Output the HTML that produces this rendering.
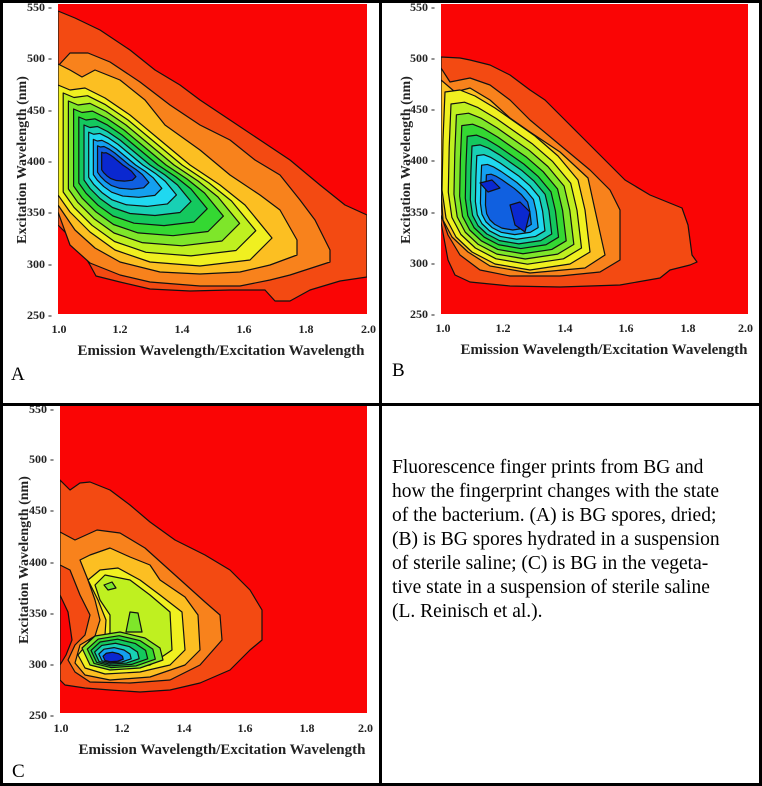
<!DOCTYPE html>
<html><head><meta charset="utf-8"><style>
html,body{margin:0;padding:0;background:#fff}
svg{display:block}
.t{font-family:"Liberation Serif",serif;font-weight:bold;font-size:12px;fill:#222}
.xl{font-family:"Liberation Serif",serif;font-weight:bold;font-size:15px;fill:#222}
.yl{font-family:"Liberation Serif",serif;font-weight:bold;font-size:14px;fill:#222}
.L{font-family:"Liberation Serif",serif;font-size:19px;fill:#000}
.cap{font-family:"Liberation Serif",serif;font-size:19.5px;fill:#000}
polygon{stroke:#111;stroke-width:1.2;stroke-linejoin:round}
</style></head><body>
<svg width="762" height="786" viewBox="0 0 762 786" xmlns="http://www.w3.org/2000/svg" xmlns:xlink="http://www.w3.org/1999/xlink">
<defs>
<clipPath id="cA"><rect x="58" y="4" width="309" height="310"/></clipPath>
<clipPath id="cB"><rect x="441" y="4" width="307" height="310"/></clipPath>
<clipPath id="cC"><rect x="60" y="406" width="307" height="307"/></clipPath>
<polygon id="a4" vector-effect="non-scaling-stroke" points="58,85 70,90 85,88 105,98 130,115 160,140 190,165 220,185 245,205 272,238 250,260 200,266 150,262 115,250 90,232 70,212 58,195"/>
<polygon id="b3" vector-effect="non-scaling-stroke" points="445,92 460,90 475,96 495,108 515,122 535,136 558,156 578,180 585,210 590,252 570,264 530,270 495,264 472,252 456,237 446,218 442,190 443,140"/>
<polygon id="c6" vector-effect="non-scaling-stroke" points="82,648 95,636 120,632 145,638 160,648 163,660 140,668 110,670 90,665"/>
</defs>
<rect width="762" height="786" fill="#fff"/>

<!-- Panel A -->
<g clip-path="url(#cA)">
<rect x="58" y="4" width="309" height="310" fill="#fa0505"/>
<polygon fill="#f34a12" points="58,11 75,18 100,30 130,50 155,70 180,85 200,100 230,120 260,140 290,160 320,185 345,205 367,215 367,277 340,281 310,290 290,301 275,301 265,290 230,290 190,291 150,289 120,282 96,276 90,265 78,245 58,225"/>
<polygon fill="#f8821c" points="58,66 70,53 88,53 110,62 140,82 170,105 200,125 230,140 255,160 280,175 300,200 315,220 330,250 330,262 290,275 270,280 240,286 200,286 150,282 120,275 90,263 70,245 58,212"/>
<polygon fill="#fcbf22" points="58,64 70,70 82,77 95,70 120,80 145,100 165,125 200,150 230,175 260,195 280,210 297,240 297,255 270,265 240,272 200,274 160,272 120,262 95,248 75,230 58,205"/>
<use xlink:href="#a4" fill="#f0f020"/>
<use xlink:href="#a4" fill="#bff020" transform="translate(110,165) scale(0.9) translate(-110,-165)"/>
<use xlink:href="#a4" fill="#7ee62a" transform="translate(110,165) scale(0.8) translate(-110,-165)"/>
<use xlink:href="#a4" fill="#34d832" transform="translate(110,165) scale(0.7) translate(-110,-165)"/>
<use xlink:href="#a4" fill="#14c85e" transform="translate(110,165) scale(0.6) translate(-110,-165)"/>
<use xlink:href="#a4" fill="#18d0b4" transform="translate(110,165) scale(0.5) translate(-110,-165)"/>
<use xlink:href="#a4" fill="#20d8f0" transform="translate(110,165) scale(0.41) translate(-110,-165)"/>
<use xlink:href="#a4" fill="#14a0f0" transform="translate(110,165) scale(0.32) translate(-110,-165)"/>
<use xlink:href="#a4" fill="#1060e0" transform="translate(110,165) scale(0.24) translate(-110,-165)"/>
<use xlink:href="#a4" fill="#0a28d0" transform="translate(110,165) scale(0.16) translate(-110,-165)"/>
</g>
<g>
<text class="t" x="52" y="11" text-anchor="end">550 -</text>
<text class="t" x="52" y="62" text-anchor="end">500 -</text>
<text class="t" x="52" y="114" text-anchor="end">450 -</text>
<text class="t" x="52" y="165" text-anchor="end">400 -</text>
<text class="t" x="52" y="216" text-anchor="end">350 -</text>
<text class="t" x="52" y="268" text-anchor="end">300 -</text>
<text class="t" x="52" y="319" text-anchor="end">250 -</text>
<text class="t" x="59" y="333" text-anchor="middle">1.0</text>
<text class="t" x="120" y="333" text-anchor="middle">1.2</text>
<text class="t" x="182" y="333" text-anchor="middle">1.4</text>
<text class="t" x="244" y="333" text-anchor="middle">1.6</text>
<text class="t" x="306" y="333" text-anchor="middle">1.8</text>
<text class="t" x="361" y="333">2.0</text>
<text class="xl" x="221" y="355" text-anchor="middle">Emission Wavelength/Excitation Wavelength</text>
<text class="yl" transform="translate(26,160) rotate(-90)" text-anchor="middle">Excitation Wavelength (nm)</text>
<text class="L" x="11" y="380">A</text>
</g>

<!-- Panel B -->
<g clip-path="url(#cB)">
<rect x="441" y="4" width="307" height="310" fill="#fa0505"/>
<polygon fill="#f34a12" points="441,57 460,58 470,60 490,65 510,75 530,90 545,100 565,120 585,140 605,160 625,180 650,195 682,208 688,225 692,255 697,262 690,265 670,270 660,278 620,285 560,287 510,286 470,282 455,275 448,260 441,222"/>
<polygon fill="#f8821c" points="441,68 450,82 470,78 490,85 510,100 530,120 560,145 590,170 610,190 620,210 620,260 600,272 560,276 510,276 480,270 460,255 448,235 441,215"/>
<polygon fill="#fcbf22" points="441,80 455,92 470,88 490,100 510,118 530,132 560,152 588,178 595,210 605,255 585,268 530,273 490,266 468,252 452,237 443,220 441,190"/>
<use xlink:href="#b3" fill="#f0f020"/>
<use xlink:href="#b3" fill="#bff020" transform="translate(505,212) scale(0.9) translate(-505,-212)"/>
<use xlink:href="#b3" fill="#7ee62a" transform="translate(505,212) scale(0.81) translate(-505,-212)"/>
<use xlink:href="#b3" fill="#34d832" transform="translate(505,212) scale(0.72) translate(-505,-212)"/>
<use xlink:href="#b3" fill="#14c85e" transform="translate(505,212) scale(0.63) translate(-505,-212)"/>
<use xlink:href="#b3" fill="#18d0b4" transform="translate(505,212) scale(0.55) translate(-505,-212)"/>
<use xlink:href="#b3" fill="#20d8f0" transform="translate(505,212) scale(0.47) translate(-505,-212)"/>
<use xlink:href="#b3" fill="#14a0f0" transform="translate(505,212) scale(0.39) translate(-505,-212)"/>
<use xlink:href="#b3" fill="#1060e0" transform="translate(505,212) scale(0.31) translate(-505,-212)"/>
<polygon fill="#0a28d0" points="510,205 520,202 530,212 525,232 515,225"/>
<polygon fill="#0a28d0" points="480,183 492,180 500,188 488,192"/>
</g>
<g>
<text class="t" x="435" y="11" text-anchor="end">550 -</text>
<text class="t" x="435" y="62" text-anchor="end">500 -</text>
<text class="t" x="435" y="113" text-anchor="end">450 -</text>
<text class="t" x="435" y="164" text-anchor="end">400 -</text>
<text class="t" x="435" y="216" text-anchor="end">350 -</text>
<text class="t" x="435" y="267" text-anchor="end">300 -</text>
<text class="t" x="435" y="318" text-anchor="end">250 -</text>
<text class="t" x="443" y="332" text-anchor="middle">1.0</text>
<text class="t" x="503" y="332" text-anchor="middle">1.2</text>
<text class="t" x="565" y="332" text-anchor="middle">1.4</text>
<text class="t" x="626" y="332" text-anchor="middle">1.6</text>
<text class="t" x="688" y="332" text-anchor="middle">1.8</text>
<text class="t" x="738" y="332">2.0</text>
<text class="xl" x="604" y="354" text-anchor="middle">Emission Wavelength/Excitation Wavelength</text>
<text class="yl" transform="translate(410,160) rotate(-90)" text-anchor="middle">Excitation Wavelength (nm)</text>
<text class="L" x="392" y="376">B</text>
</g>

<!-- Panel C -->
<g clip-path="url(#cC)">
<rect x="60" y="406" width="307" height="307" fill="#fa0505"/>
<polygon fill="#f34a12" points="60,480 70,490 80,483 90,482 110,490 130,505 150,522 175,540 205,555 230,570 250,590 262,610 262,640 250,650 230,670 200,683 170,690 140,692 110,690 85,688 65,685 60,680"/>
<polygon fill="#fa0505" points="60,595 68,612 72,640 66,655 60,665"/>
<polygon fill="#f8821c" points="60,532 75,540 97,530 120,533 145,548 175,575 205,602 220,615 222,640 200,665 170,680 130,683 90,682 75,672 68,660 75,645 85,635 90,615 80,595 70,570 60,565"/>
<polygon fill="#fcbf22" points="80,560 90,555 110,548 130,557 150,565 160,580 185,597 198,615 200,650 185,665 150,677 110,680 85,675 75,663 80,645 95,636 100,620 95,600 88,580"/>
<polygon fill="#f0f020" points="88,580 100,570 118,568 140,580 160,595 182,612 185,650 170,665 140,672 105,674 85,668 78,655 90,640 105,635 106,620 98,600"/>
<polygon fill="#bff020" points="95,585 105,575 130,580 150,595 170,612 172,650 150,665 110,668 88,660 85,650 100,640 110,633 110,615 100,600"/>
<polygon fill="#7ee62a" points="126,632 130,612 138,613 142,632"/>
<polygon fill="#7ee62a" points="104,585 112,582 116,588 108,590"/>
<use xlink:href="#c6" fill="#7ee62a"/>
<use xlink:href="#c6" fill="#34d832" transform="translate(115,655) scale(0.84) translate(-115,-655)"/>
<use xlink:href="#c6" fill="#14c85e" transform="translate(112,656) scale(0.7) translate(-112,-656)"/>
<use xlink:href="#c6" fill="#18d0b4" transform="translate(110,657) scale(0.55) translate(-110,-657)"/>
<use xlink:href="#c6" fill="#14a0f0" transform="translate(110,658) scale(0.4) translate(-110,-658)"/>
<use xlink:href="#c6" fill="#0a28d0" transform="translate(110,659) scale(0.25) translate(-110,-659)"/>
</g>
<g>
<text class="t" x="54" y="413" text-anchor="end">550 -</text>
<text class="t" x="54" y="463" text-anchor="end">500 -</text>
<text class="t" x="54" y="514" text-anchor="end">450 -</text>
<text class="t" x="54" y="566" text-anchor="end">400 -</text>
<text class="t" x="54" y="617" text-anchor="end">350 -</text>
<text class="t" x="54" y="668" text-anchor="end">300 -</text>
<text class="t" x="54" y="719" text-anchor="end">250 -</text>
<text class="t" x="61" y="732" text-anchor="middle">1.0</text>
<text class="t" x="122" y="732" text-anchor="middle">1.2</text>
<text class="t" x="184" y="732" text-anchor="middle">1.4</text>
<text class="t" x="245" y="732" text-anchor="middle">1.6</text>
<text class="t" x="307" y="732" text-anchor="middle">1.8</text>
<text class="t" x="358" y="732">2.0</text>
<text class="xl" x="222" y="754" text-anchor="middle">Emission Wavelength/Excitation Wavelength</text>
<text class="yl" transform="translate(28,560) rotate(-90)" text-anchor="middle">Excitation Wavelength (nm)</text>
<text class="L" x="12" y="777">C</text>
</g>

<!-- Caption -->
<g class="cap">
<text x="392" y="473">Fluorescence finger prints from BG and</text>
<text x="392" y="497">how the fingerprint changes with the state</text>
<text x="392" y="521">of the bacterium. (A) is BG spores, dried;</text>
<text x="392" y="545">(B) is BG spores hydrated in a suspension</text>
<text x="392" y="569">of sterile saline; (C) is BG in the vegeta-</text>
<text x="392" y="593">tive state in a suspension of sterile saline</text>
<text x="392" y="617">(L. Reinisch et al.).</text>
</g>

<!-- Borders -->
<rect x="0" y="0" width="762" height="3" fill="#000"/>
<rect x="0" y="0" width="3" height="786" fill="#000"/>
<rect x="759" y="0" width="3" height="786" fill="#000"/>
<rect x="0" y="783" width="762" height="3" fill="#000"/>
<rect x="379" y="0" width="3" height="786" fill="#000"/>
<rect x="0" y="403" width="762" height="3" fill="#000"/>
</svg>
</body></html>
